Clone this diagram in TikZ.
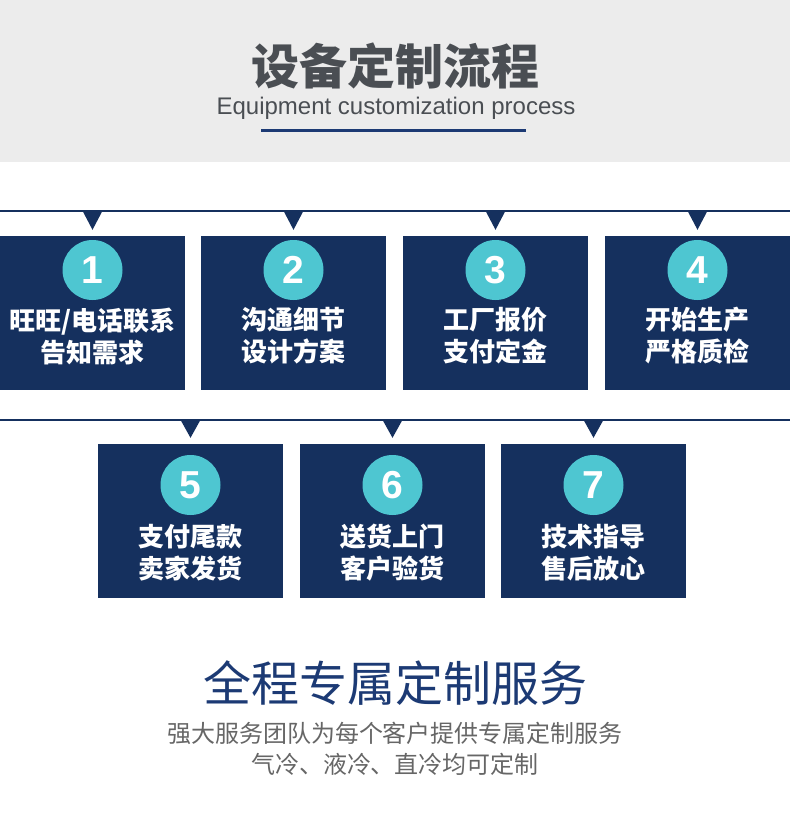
\documentclass[tikz,border=0pt]{standalone}
\usepackage{fontspec}
\setmainfont{Liberation Sans}
\newfontfamily\cjk{Noto Sans CJK SC}
\definecolor{navy}{HTML}{15305E}
\definecolor{dotcyan}{HTML}{4EC6D1}
\definecolor{headgray}{HTML}{ECECEC}
\definecolor{titlegray}{HTML}{4A4E53}
\definecolor{slogan}{HTML}{1C3A74}
\definecolor{notegray}{HTML}{666666}

\begin{document}
\begin{tikzpicture}[x=1pt,y=-1pt,
    stepbox/.style={fill=navy,minimum width=185pt,minimum height=154pt,inner sep=0pt},
    numdot/.style={circle,fill=dotcyan,minimum size=60pt,inner sep=0pt,text=white,
      font=\bfseries\fontsize{39}{39}\selectfont},
    steptext/.style={text=white,align=center,inner sep=0pt,
      font=\cjk\bfseries\fontsize{26}{32}\selectfont}]
    \useasboundingbox (0,0) rectangle (790,820);
    % header
    \fill[headgray] (0,0) rectangle (790,162);
    \node[text=titlegray,font=\cjk\bfseries\fontsize{48}{48}\selectfont] (title) at (395,66) {设备定制流程};
    \node[text=titlegray,font=\fontsize{24}{24}\selectfont] (subtitle) at (396,108) {Equipment customization process};
    \draw[slogan,line width=3pt] (261,130) -- (526,130);
    % row lines
    \draw[navy,line width=2pt] (0,211) -- (790,211);
    \draw[navy,line width=2pt] (0,420) -- (790,420);
    % first row
    \foreach \n/\x/\a/\b in {1/92.5/{旺旺/电话联系}/告知需求, 2/293.5/沟通细节/设计方案,
                             3/495.5/工厂报价/支付定金, 4/697.5/开始生产/严格质检} {
      \node[stepbox] (box\n) at (\x,313) {};
      \fill[navy] ([xshift=-10pt,yshift=25pt]box\n.north) -- ([xshift=10pt,yshift=25pt]box\n.north)
        -- ([yshift=6pt]box\n.north) -- cycle;
      \node[numdot] (dot\n) at (\x,270) {\n};
      \node[steptext] (text\n) at (\x,336) {\a\\\b};
    }
    % second row
    \foreach \n/\x/\a/\b in {5/190.5/支付尾款/卖家发货, 6/392.5/送货上门/客户验货,
                             7/593.5/技术指导/售后放心} {
      \node[stepbox] (box\n) at (\x,521) {};
      \fill[navy] ([xshift=-10pt,yshift=24pt]box\n.north) -- ([xshift=10pt,yshift=24pt]box\n.north)
        -- ([yshift=6pt]box\n.north) -- cycle;
      \node[numdot] (dot\n) at (\x,485) {\n};
      \node[steptext] (text\n) at (\x,553) {\a\\\b};
    }
    % footer
    \node[text=slogan,font=\cjk\fontsize{48}{48}\selectfont] (slogan) at (395,683) {全程专属定制服务};
    \node[text=notegray,font=\cjk\fontsize{24}{31}\selectfont,align=center] (note) at (395,749)
      {强大服务团队为每个客户提供专属定制服务\\气冷、液冷、直冷均可定制};
  \end{tikzpicture}
\end{document}
